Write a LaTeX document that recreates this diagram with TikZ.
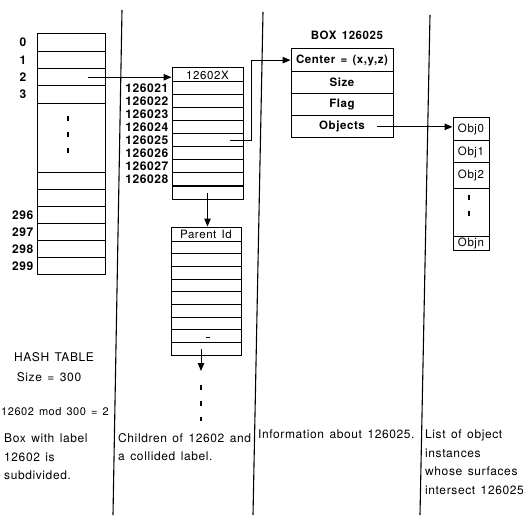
\documentclass[tikz,border=0pt]{standalone}
\usepackage{fontspec}
\setmainfont{TeX Gyre Heros}[LetterSpace=5, WordSpace=1.4]
\usetikzlibrary{arrows.meta}

\begin{document}
\begin{tikzpicture}[x=1pt, y=-1pt, >={Triangle[length=8pt,width=6.5pt]}]
  \tikzset{
    cell/.style={rectangle, draw, line width=1pt, inner sep=0pt,
      font=\fontsize{11.5}{13}\selectfont},
    boldcell/.style={cell, font=\fontsize{11.5}{13}\selectfont\bfseries},
    rowlabel/.style={font=\fontsize{12}{14}\selectfont\bfseries, inner sep=3pt},
    link/.style={->, line width=1pt},
    divider/.style={line width=1.1pt},
    gapline/.style={line width=1.2pt, dash pattern=on 5pt off 11pt},
    caption/.style={font=\fontsize{12}{18.5}\selectfont, align=left, inner sep=0pt}
  }
  \useasboundingbox (0,0) rectangle (523,519);

  % column dividers
  \draw[divider] (122,10) -- (113,515);
  \draw[divider] (263,12) -- (253,515);
  \draw[divider] (430,15) -- (420,515);

  % hash table
  \foreach \i in {0,...,3}
    \node[cell, minimum width=68, minimum height=17.3,
      label={[rowlabel, xshift=-7pt]left:\i}] (h\i) at (71,{42.65+17.3*\i}) {};
  \node[cell, minimum width=68, minimum height=69.3] (hgap) at (71,137.85) {};
  \draw[gapline] (68,116) -- (68,157);
  \foreach \i in {294,295}
    \node[cell, minimum width=68, minimum height=17] (h\i) at (71,{164+17*(\i-293)}) {};
  \foreach \i in {296,...,299}
    \node[cell, minimum width=68, minimum height=17,
      label={[rowlabel]left:\i}] (h\i) at (71,{164+17*(\i-293)}) {};

  % children of 12602
  \node[cell, minimum width=71, minimum height=14] (c0) at (207.5,75) {12602X};
  \foreach \i in {1,...,8}
    \node[cell, minimum width=71, minimum height=13,
      label={[rowlabel]left:12602\i}] (c\i) at (207.5,{75.5+13*\i}) {};
  \node[cell, minimum width=71, minimum height=13] (c9) at (207.5,192.5) {};

  % parent list
  \node[cell, minimum width=70, minimum height=14] (p0) at (206,234) {Parent Id};
  \foreach \i in {1,...,9}
    \node[cell, minimum width=70, minimum height=12.67] (p\i) at (206,{234.67+12.67*\i}) {};
  \draw[line width=0.6pt] (206,337) -- (210,337);
  \coordinate (pend) at (201,371);
  \draw[gapline] (201,385) -- (201,421);

  % box record
  \node[font=\fontsize{11.5}{13}\selectfont\bfseries] (btitle) at (347,35) {BOX 126025};
  \node[boldcell, minimum width=102, minimum height=22.25] (b0) at (342,60.125) {Center = (x,y,z)};
  \node[boldcell, minimum width=102, minimum height=22.25] (b1) at (342,82.375) {Size};
  \node[boldcell, minimum width=102, minimum height=22.25] (b2) at (342,104.625) {Flag};
  \node[boldcell, minimum width=102, minimum height=22.25] (b3) at (342,126.875) {Objects};

  % object list
  \node[cell, minimum width=36, minimum height=23] (o0) at (471,129.5) {Obj0};
  \node[cell, minimum width=36, minimum height=22] (o1) at (471,152) {Obj1};
  \node[cell, minimum width=36, minimum height=25] (o2) at (471,175.5) {Obj2};
  \node[cell, minimum width=36, minimum height=48] (odots) at (471,212) {};
  \node[cell, minimum width=36, minimum height=14] (on) at (471,243) {Objn};
  \draw[gapline] (469,195) -- (469,224);

  % links
  \draw[link] ([xshift=17pt]h2.center) -- (h2.center -| c0.west);
  \draw[link] ([xshift=22pt]c5.center) -- ++(22,0) |- (b0.west);
  \draw[link] ([xshift=35pt]b3.center) -- (b3.center -| o0.west);
  \draw[link] (c9.center) -- (c9.center |- p0.north);
  \draw[link] (p9.center -| pend) -- (pend);

  % captions
  \node[caption] (hashname) at (54,357) {HASH TABLE};
  \node[caption] (hashsize) at (49,377) {Size = 300};
  \node[caption, anchor=west, font=\fontsize{11}{13}\selectfont] (hashmod) at (1,412) {12602 mod 300 = 2};
  \node[caption, anchor=north west] (capa) at (4,434) {Box with label\\12602 is\\subdivided.};
  \node[caption, anchor=north west] (capb) at (118,433) {Children of 12602 and\\a collided label.};
  \node[caption, anchor=north west] (capc) at (258,430) {Information about 126025.};
  \node[caption, anchor=north west] (capd) at (425,430) {List of object\\instances\\whose surfaces\\intersect 126025};
\end{tikzpicture}
\end{document}
